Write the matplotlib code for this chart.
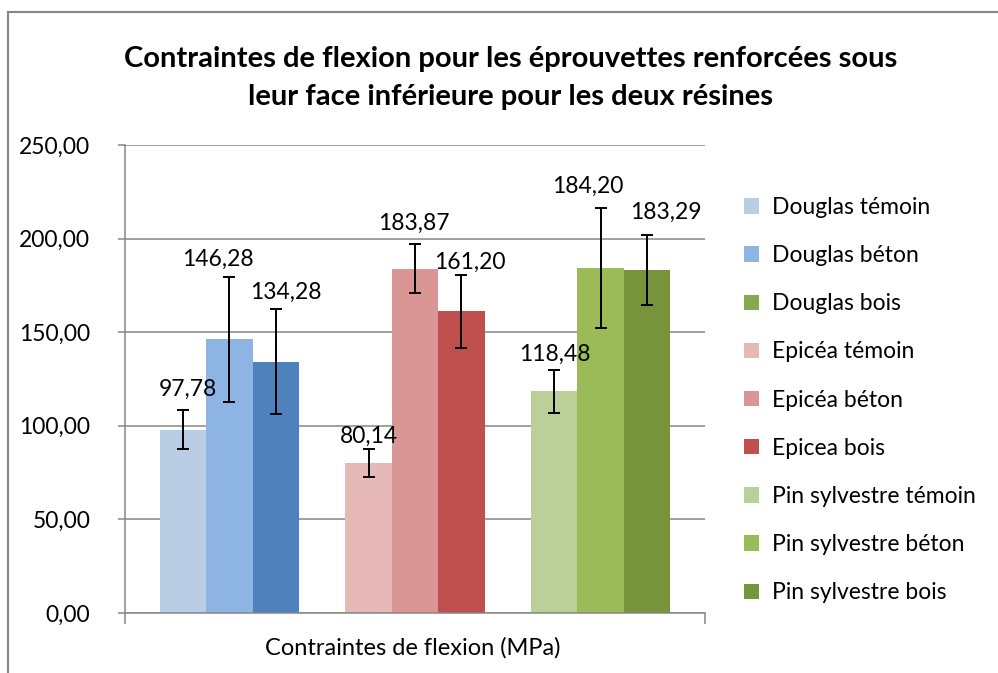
import numpy as np
import matplotlib
matplotlib.use("Agg")
import matplotlib.pyplot as plt
from matplotlib.patches import Patch
from matplotlib.lines import Line2D

plt.rcParams['font.family'] = ['Lato', 'DejaVu Sans']

series = ["Douglas témoin", "Douglas béton", "Douglas bois",
          "Epicéa témoin", "Epicéa béton", "Epicea bois",
          "Pin sylvestre témoin", "Pin sylvestre béton", "Pin sylvestre bois"]
values = [97.78, 146.28, 134.28, 80.14, 183.87, 161.20, 118.48, 184.20, 183.29]
errors = [10.4, 33.4, 28.1, 7.5, 13.0, 19.6, 11.4, 32.0, 18.5]
labels = ["97,78", "146,28", "134,28", "80,14", "183,87", "161,20", "118,48", "184,20", "183,29"]
yticks = [0, 50, 100, 150, 200, 250]
category = "Contraintes de flexion (MPa)"
title = "Contraintes de flexion pour les éprouvettes renforcées sous\nleur face inférieure pour les deux résines"

bar_colors = ["#B9CDE5", "#8EB4E3", "#4F81BD",
              "#E6B9B8", "#D99694", "#C0504D",
              "#BBCF98", "#9BBB59", "#77933C"]
legend_colors = ["#B9CDE5", "#8EB4E3", "#8AA650",
                 "#E6B9B8", "#D99694", "#C0504D",
                 "#BBCF98", "#9BBB59", "#77933C"]
# label offsets in pixels (dx, dy) from the top of the error bar
label_off = [(5, 21), (-11, 17), (10, 17), (0, 13), (-1, 21), (8, 12), (1, 16), (-13, 22), (19, 23)]

grid_col = "#868686"
fs = 16.5

fig = plt.figure(figsize=(9.98, 6.73), dpi=100)
W, H = 998, 673
ax = fig.add_axes([125 / W, 1 - 613 / H, (705 - 125) / W, (613 - 145) / H])

pos = [(i // 3) * 4 + i % 3 for i in range(len(values))]
ax.bar(pos, values, width=1.0, color=bar_colors, zorder=2)
ax.errorbar(pos, values, yerr=errors, fmt="none", ecolor="black",
            elinewidth=1.4, capsize=4.5, capthick=1.4, zorder=3)

for x, v, e, lab, (dx, dy) in zip(pos, values, errors, labels, label_off):
    ax.annotate(lab, (x, v + e), xytext=(dx * 0.72, dy * 0.72), textcoords="offset points",
                ha="center", va="center", fontsize=fs, color="black", zorder=4)

ax.set_xlim(-1.25, 11.25)
ax.set_ylim(0, 250)
ax.set_yticks(yticks)
ax.set_yticklabels([f"{t:.2f}".replace(".", ",") for t in yticks], fontsize=fs)
ax.yaxis.grid(True, color=grid_col, linewidth=1.1, zorder=0)
ax.set_axisbelow(True)
ax.set_xticks([-1.25, 11.25])
ax.set_xticklabels(["", ""])
ax.tick_params(axis="x", direction="out", length=8, color=grid_col, width=1.1)
ax.tick_params(axis="y", direction="out", length=5, color=grid_col, width=1.1, pad=20)
for s in ["top", "right"]:
    ax.spines[s].set_visible(False)
for s in ["left", "bottom"]:
    ax.spines[s].set_color(grid_col)
    ax.spines[s].set_linewidth(1.1)

fig.text(413 / W, 1 - 648 / H, category, ha="center", va="center", fontsize=17)
fig.text(511 / W, 1 - 78 / H, title, ha="center", va="center", fontsize=21,
         fontweight="bold", linespacing=1.55)

handles = [Patch(facecolor=c, edgecolor="none") for c in legend_colors]
fig.legend(handles, series, loc="upper left", bbox_to_anchor=(744 / W, 1 - 197 / H),
           frameon=False, fontsize=fs, handlelength=0.65, handleheight=0.65,
           handletextpad=0.55, labelspacing=1.185, borderaxespad=0, borderpad=0)

# chart area border (top and left only visible)
fig.add_artist(Line2D([8 / W, 1], [1 - 12 / H, 1 - 12 / H], transform=fig.transFigure,
                      color=grid_col, linewidth=1.5))
fig.add_artist(Line2D([8 / W, 8 / W], [0, 1 - 12 / H], transform=fig.transFigure,
                      color=grid_col, linewidth=1.5))

fig.savefig("out.png", dpi=100)
